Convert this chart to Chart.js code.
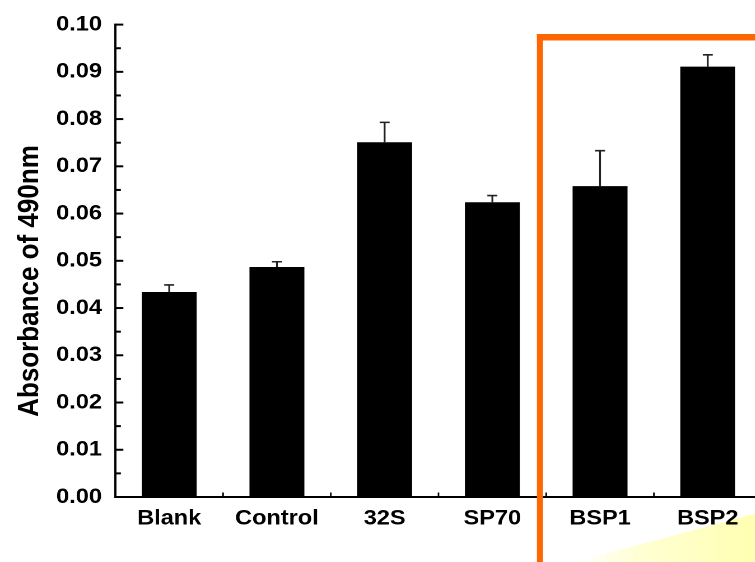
<!DOCTYPE html>
<html>
<head>
<meta charset="utf-8">
<script src="https://cdn.jsdelivr.net/npm/chart.js@4.4.1/dist/chart.umd.min.js"></script>
<style>
  html, body { margin: 0; padding: 0; background: #fff; overflow: hidden; width: 755px; height: 562px; }
  /* the figure is drawn slightly narrow and widened horizontally */
  #stage { width: 680px; height: 562px; transform: scaleX(1.12); transform-origin: 0 0; }
  canvas { display: block; }
</style>
</head>
<body>
<div id="stage"><canvas id="c" width="680" height="562"></canvas></div>
<script>
// Samples and measured absorbance at 490 nm
const categories = ['Blank', 'Control', '32S', 'SP70', 'BSP1', 'BSP2'];
const absorbance = [0.0434, 0.0487, 0.0751, 0.0624, 0.0658, 0.0911];
const upperError = [0.0015, 0.0011, 0.0042, 0.0014, 0.0075, 0.0025];

// Value axis
const yMin = 0;
const yMax = 0.10;
const yStep = 0.01;
const yTitle = 'Absorbance of 490nm';

const SX = 1.12;               // horizontal widening of the stage
const FONT = '"Liberation Sans", Arial, Helvetica, sans-serif';

const decor = {
  id: 'decor',
  beforeDraw(chart) {
    // soft yellow light in the lower right corner, behind everything
    const ctx = chart.ctx;
    const W = chart.width, H = chart.height;
    ctx.save();
    const g = ctx.createLinearGradient(575 / SX, 0, W, 0);
    g.addColorStop(0, 'rgba(255,255,190,0)');
    g.addColorStop(0.35, 'rgba(255,255,195,0.75)');
    g.addColorStop(1, 'rgba(255,255,175,1)');
    ctx.fillStyle = g;
    ctx.beginPath();
    ctx.moveTo(575 / SX, H);
    ctx.lineTo(W, 512);
    ctx.lineTo(W, H);
    ctx.closePath();
    ctx.fill();
    ctx.restore();
  },
  afterDatasetsDraw(chart) {
    const ctx = chart.ctx;
    const xs = chart.scales.x, ys = chart.scales.y;
    const area = chart.chartArea;
    const meta = chart.getDatasetMeta(0);
    ctx.save();

    // error bars (upper only)
    ctx.strokeStyle = '#222';
    ctx.lineWidth = 1.6;
    meta.data.forEach((bar, i) => {
      const top = ys.getPixelForValue(absorbance[i] + upperError[i]);
      const half = 5 / SX;
      ctx.beginPath();
      ctx.moveTo(bar.x, bar.y);
      ctx.lineTo(bar.x, top);
      ctx.moveTo(bar.x - half, top);
      ctx.lineTo(bar.x + half, top);
      ctx.stroke();
    });

    // axis lines
    ctx.strokeStyle = '#000';
    const y0 = ys.getPixelForValue(yMin);
    const yTop = ys.getPixelForValue(yMax);
    ctx.lineWidth = 2;
    ctx.beginPath();
    ctx.moveTo(area.left - 1, y0);
    ctx.lineTo(chart.width, y0);
    ctx.stroke();
    ctx.lineWidth = 2.2 / SX;
    ctx.beginPath();
    ctx.moveTo(area.left, yTop - 1);
    ctx.lineTo(area.left, y0 + 1);
    ctx.stroke();

    // inward ticks on the value axis, major and minor
    ctx.lineWidth = 2;
    for (let v = yMin; v <= yMax + 1e-9; v += yStep / 2) {
      const major = Math.abs(Math.round(v / yStep) * yStep - v) < 1e-9;
      const py = ys.getPixelForValue(v);
      ctx.beginPath();
      ctx.moveTo(area.left, py);
      ctx.lineTo(area.left + (major ? 8 : 5.5) / SX, py);
      ctx.stroke();
    }
    // short ticks between categories
    ctx.lineWidth = 1.6 / SX;
    const step = xs.getPixelForValue(1) - xs.getPixelForValue(0);
    for (let i = 0; i < categories.length; i++) {
      const px = xs.getPixelForValue(i) + step / 2;
      ctx.beginPath();
      ctx.moveTo(px, y0);
      ctx.lineTo(px, y0 - 4.5);
      ctx.stroke();
    }

    // orange frame around the last two samples
    const fx = xs.getPixelForValue(3) + step / 2 - 5.6;
    ctx.fillStyle = '#ff6600';
    const t = 6 / SX;
    ctx.fillRect(fx - t / 2, 34, chart.width, 6.5);
    ctx.fillRect(fx - t / 2, 34, t, chart.height);

    // value axis title
    ctx.fillStyle = '#000';
    ctx.font = 'bold 26px ' + FONT;
    ctx.textAlign = 'center';
    ctx.textBaseline = 'alphabetic';
    ctx.translate(38 / SX, 281);
    ctx.rotate(-Math.PI / 2);
    ctx.fillText(yTitle, 0, 0);
    ctx.restore();
  }
};

new Chart(document.getElementById('c'), {
  type: 'bar',
  data: {
    labels: categories,
    datasets: [{
      data: absorbance,
      backgroundColor: '#000',
      borderWidth: 0,
      barPercentage: 0.51,
      categoryPercentage: 1.0
    }]
  },
  options: {
    responsive: false,
    devicePixelRatio: 2,
    animation: false,
    layout: { padding: { top: 23, left: 0, right: 0, bottom: 0 } },
    plugins: { legend: { display: false }, tooltip: { enabled: false } },
    scales: {
      x: {
        type: 'category',
        offset: true,
        grid: { display: false, drawTicks: false },
        border: { display: false },
        ticks: {
          color: '#000',
          font: { family: FONT, size: 21, weight: 'bold' },
          padding: 9,
          maxRotation: 0,
          autoSkip: false
        },
        afterFit(s) { s.height = 65; }
      },
      y: {
        min: yMin,
        max: yMax,
        grid: { display: false, drawTicks: false },
        border: { display: false },
        ticks: {
          stepSize: yStep,
          color: '#000',
          font: { family: FONT, size: 21, weight: 'bold' },
          padding: 12,
          callback: v => v.toFixed(2)
        },
        afterFit(s) { s.width = 103; }
      }
    }
  },
  plugins: [decor]
});
</script>
</body>
</html>
